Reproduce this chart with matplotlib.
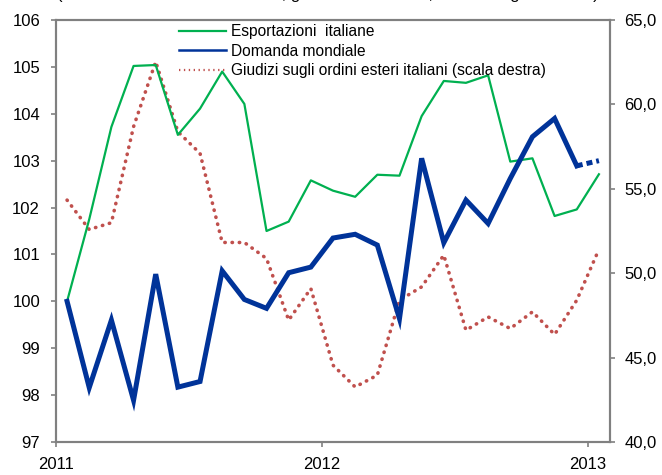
import matplotlib
matplotlib.use("Agg")
import matplotlib.pyplot as plt
from matplotlib.lines import Line2D
import numpy as np

plt.rcParams['font.family'] = ['Liberation Sans', 'DejaVu Sans']

# Monthly data, Jan 2011 - Jan 2013
months = list(range(25))
esportazioni = [100.0, 101.75, 103.72, 105.02, 105.04, 103.55, 104.11, 104.90, 104.21,
                101.50, 101.70, 102.58, 102.36, 102.23, 102.70, 102.68, 103.95, 104.70,
                104.66, 104.82, 102.98, 103.05, 101.82, 101.96, 102.71]
domanda = [100.0, 98.16, 99.60, 97.89, 100.58, 98.17, 98.29, 100.65, 100.04,
           99.85, 100.61, 100.73, 101.35, 101.43, 101.20, 99.63, 103.05, 101.25,
           102.16, 101.66, 102.62, 103.51, 103.90, 102.89, 103.00]
giudizi = [54.33, 52.59, 52.99, 58.68, 62.53, 58.38, 57.10, 51.82, 51.82,
           50.87, 47.22, 49.09, 44.55, 43.26, 43.96, 48.40, 49.19, 51.07,
           46.62, 47.41, 46.72, 47.71, 46.37, 48.40, 51.41]
year_labels = ['2011', '2012', '2013']
left_ticks = list(range(97, 107))
right_ticks = [40, 45, 50, 55, 60, 65]
labels = ['Esportazioni  italiane', 'Domanda mondiale',
          'Giudizi sugli ordini esteri italiani (scala destra)']

green = '#00B050'
blue = '#003399'
red = '#C0504D'
gray = '#808080'

fig = plt.figure(figsize=(6.62, 4.75), dpi=100)
ax = fig.add_axes([56/662, 1-442/475, (610-56)/662, (442-20)/475])
ax2 = ax.twinx()

ax.plot(months, esportazioni, color=green, lw=1.6, zorder=3)
ax.plot(months[:24], domanda[:24], color=blue, lw=3.6, solid_joinstyle='miter', zorder=4)
ax.plot(months[23:], domanda[23:], color=blue, lw=3.6, linestyle=(0, (1.2, 0.8)), zorder=4)
ax2.plot(months, giudizi, color=red, lw=2.6, linestyle=(0, (0.1, 1.9)), dash_capstyle='round')

ax.set_xlim(-0.5, 24.5)
ax.set_ylim(97, 106)
ax2.set_ylim(40, 65)
ax.set_yticks(left_ticks)
ax.set_yticklabels([str(v) for v in left_ticks])
ax2.set_yticks(right_ticks)
ax2.set_yticklabels([f"{v:.1f}".replace('.', ',') for v in right_ticks])
ax.set_xticks([-0.5, 11.5, 23.5])
ax.set_xticklabels(year_labels)

for a in (ax, ax2):
    for s in a.spines.values():
        s.set_color(gray)
        s.set_linewidth(1.5)
    a.tick_params(colors=gray, labelcolor='black', labelsize=12, length=3.5, width=1.2)
ax.tick_params(axis='y', pad=8)
ax2.tick_params(axis='y', pad=7)
ax.tick_params(axis='x', pad=7)

ax.set_zorder(ax2.get_zorder() + 1)
ax.patch.set_visible(False)

handles = [Line2D([], [], color=green, lw=1.6),
           Line2D([], [], color=blue, lw=1.8),
           Line2D([], [], color=red, lw=1.6, linestyle=(0, (0.6, 1.6)))]
fig.legend(handles=handles, labels=labels, loc='upper left', bbox_to_anchor=(176/662, 1-21/475),
           frameon=False, fontsize=11.2, handlelength=3.0, handletextpad=0.35,
           labelspacing=0.3, borderpad=0.2, borderaxespad=0)

fig.text(57/662, 1+1.5/475, '(indici: medie mobili a tre mesi, gennaio 2011=100; dati destagionalizzati)',
         fontsize=12, ha='left', va='baseline')

fig.savefig('out.png', dpi=100)
